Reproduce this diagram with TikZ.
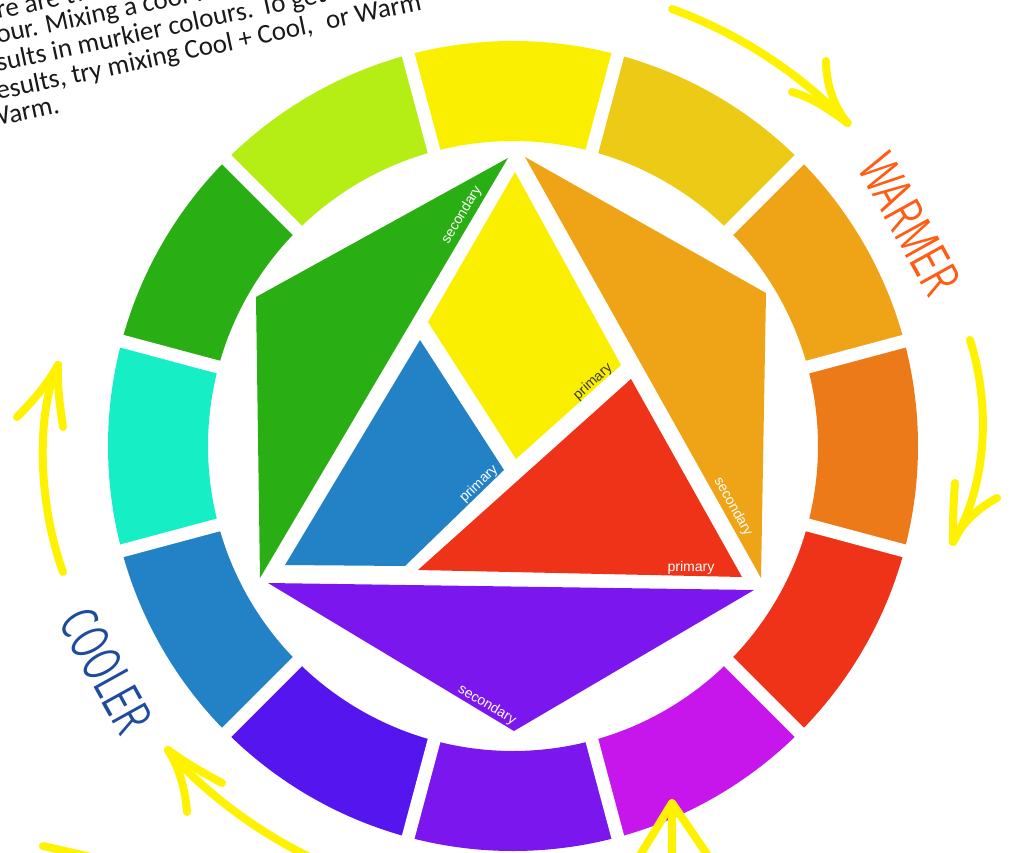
\documentclass[tikz,border=0pt]{standalone}
\usepackage{fontspec}
\setmainfont{Liberation Sans}
\newfontfamily\handfont{Carlito}
\usetikzlibrary{arrows.meta, positioning, calc}
\definecolor{wYel}{HTML}{FBEF00}
\definecolor{wGold}{HTML}{ECCA15}
\definecolor{wAmber}{HTML}{EFA418}
\definecolor{wOrange}{HTML}{EC7A18}
\definecolor{wRed}{HTML}{EF3318}
\definecolor{wMagenta}{HTML}{C716EC}
\definecolor{wViolet}{HTML}{7B17EE}
\definecolor{wIndigo}{HTML}{5515EE}
\definecolor{wBlue}{HTML}{2381C5}
\definecolor{wCyan}{HTML}{16EEC6}
\definecolor{wGreen}{HTML}{29AE13}
\definecolor{wLime}{HTML}{B4EE14}
\definecolor{cArrow}{HTML}{FFF200}
\definecolor{cWarm}{HTML}{FF5C14}
\definecolor{cCool}{HTML}{1E4B9E}
\definecolor{cDark}{HTML}{3B3B30}
\tikzset{
  every picture/.style={x=1pt, y=1pt},
  piece/.style={fill=#1},
  gap/.style={draw=white, line width=13pt},
  tag/.style={font=\fontsize{14}{16}\selectfont, text=white, inner sep=0pt},
  note/.style={font=\handfont\fontsize{27}{30}\selectfont, text=black!90, anchor=base west, rotate=12, inner sep=0pt},
  side/.style={font=\sffamily\fontsize{55}{55}\selectfont, inner sep=0pt, rotate=-61},
  yarrow/.style={draw=cArrow, line width=8pt, line cap=round, line join=round},
}

\begin{document}
\begin{tikzpicture}
  \useasboundingbox (-513,-406) rectangle (498,446);
  \clip (-513,-406) rectangle (498,446);
  % outer ring
  \foreach \a/\c in {90/wYel, 60/wGold, 30/wAmber, 0/wOrange, -30/wRed, -60/wMagenta,
                     -90/wViolet, -120/wIndigo, -150/wBlue, 180/wCyan, 150/wGreen, 120/wLime}
    \fill[\c] (\a-15:305) arc[start angle=\a-15, end angle=\a+15, radius=305]
      -- (\a+15:405) arc[start angle=\a+15, end angle=\a-15, radius=405] -- cycle;
  \foreach \a in {15,45,...,345}
    \draw[gap] (\a:290) -- (\a:420);
  % inner pieces
  \fill[piece=wGreen] (-5,288) -- (-257,149) -- (-253,-132) -- cycle;
  \fill[piece=wYel] (2,274) -- (108,81) -- (3,-13) -- (-85,124) -- cycle;
  \fill[piece=wBlue] (-93,106) -- (-9,-24) -- (-108,-120) -- (-228,-119) -- cycle;
  \fill[piece=wRed] (118,67) -- (-95,-124) -- (229,-131) -- cycle;
  \fill[piece=wAmber] (12,289) -- (253,153) -- (248,-132) -- cycle;
  \fill[piece=wViolet] (-245,-137) -- (241,-144) -- (1,-285) -- cycle;
  \node[tag, rotate=59] (secG) at (-51,231) {secondary};
  \node[tag, rotate=42, text=cDark] (priY) at (80,64) {primary};
  \node[tag, rotate=44] (priB) at (-34,-38) {primary};
  \node[tag, rotate=-1] (priR) at (178,-122) {primary};
  \node[tag, rotate=-61] (secO) at (220,-61) {secondary};
  \node[tag, rotate=-31] (secV) at (-26,-259) {secondary};
  % side words
  \node[side, text=cWarm] (warm) at (397,222) {\scalebox{0.68}[1]{WARMER}};
  \node[side, text=cCool] (cool) at (-407,-224) {\scalebox{0.66}[1]{COOLER}};
  % text block, top left
  \node[note] (ln1) at (-515,427) {re are tw};
  \node[note] (ln2) at (-515,402) {our. Mixing a cool with};
  \node[note] (ln3) at (-515,374) {sults in murkier colours. To get};
  \node[note] (ln4) at (-515,346) {esults, try mixing Cool + Cool,\hspace{14pt}or Warm};
  \node[note] (ln5) at (-525,318) {Warm.};
  % yellow arrows
  \draw[yarrow] (70:465) arc[start angle=70, end angle=44, radius=465];
  \draw[yarrow] (313,385) .. controls (313,360) and (322,338) .. (44:465);
  \draw[yarrow] (279,354) .. controls (295,350) and (315,338) .. (44:465);
  \draw[yarrow] (457,106) .. controls (478,40) and (474,-40) .. (440,-96);
  \draw[yarrow] (442,-37) .. controls (440,-60) and (440,-80) .. (440,-96);
  \draw[yarrow] (484,-52) .. controls (465,-62) and (448,-78) .. (440,-96);
  \draw[yarrow] (-450,-126) .. controls (-474,-60) and (-478,30) .. (-455,81);
  \draw[yarrow] (-496,29) .. controls (-482,43) and (-465,62) .. (-455,81);
  \draw[yarrow] (-450,19) .. controls (-453,40) and (-456,60) .. (-455,81);
  \draw[yarrow] (-195,-415) .. controls (-260,-385) and (-315,-340) .. (-345,-304);
  \draw[yarrow] (-291,-337) .. controls (-310,-327) and (-330,-315) .. (-345,-304);
  \draw[yarrow] (-326,-366) .. controls (-328,-340) and (-335,-320) .. (-345,-304);
  \draw[yarrow] (159,-420) -- (159,-357);
  \draw[yarrow] (124,-414) -- (159,-357) -- (198,-414);
  \draw[yarrow] (-470,-400) -- (-400,-416);
\end{tikzpicture}
\end{document}
